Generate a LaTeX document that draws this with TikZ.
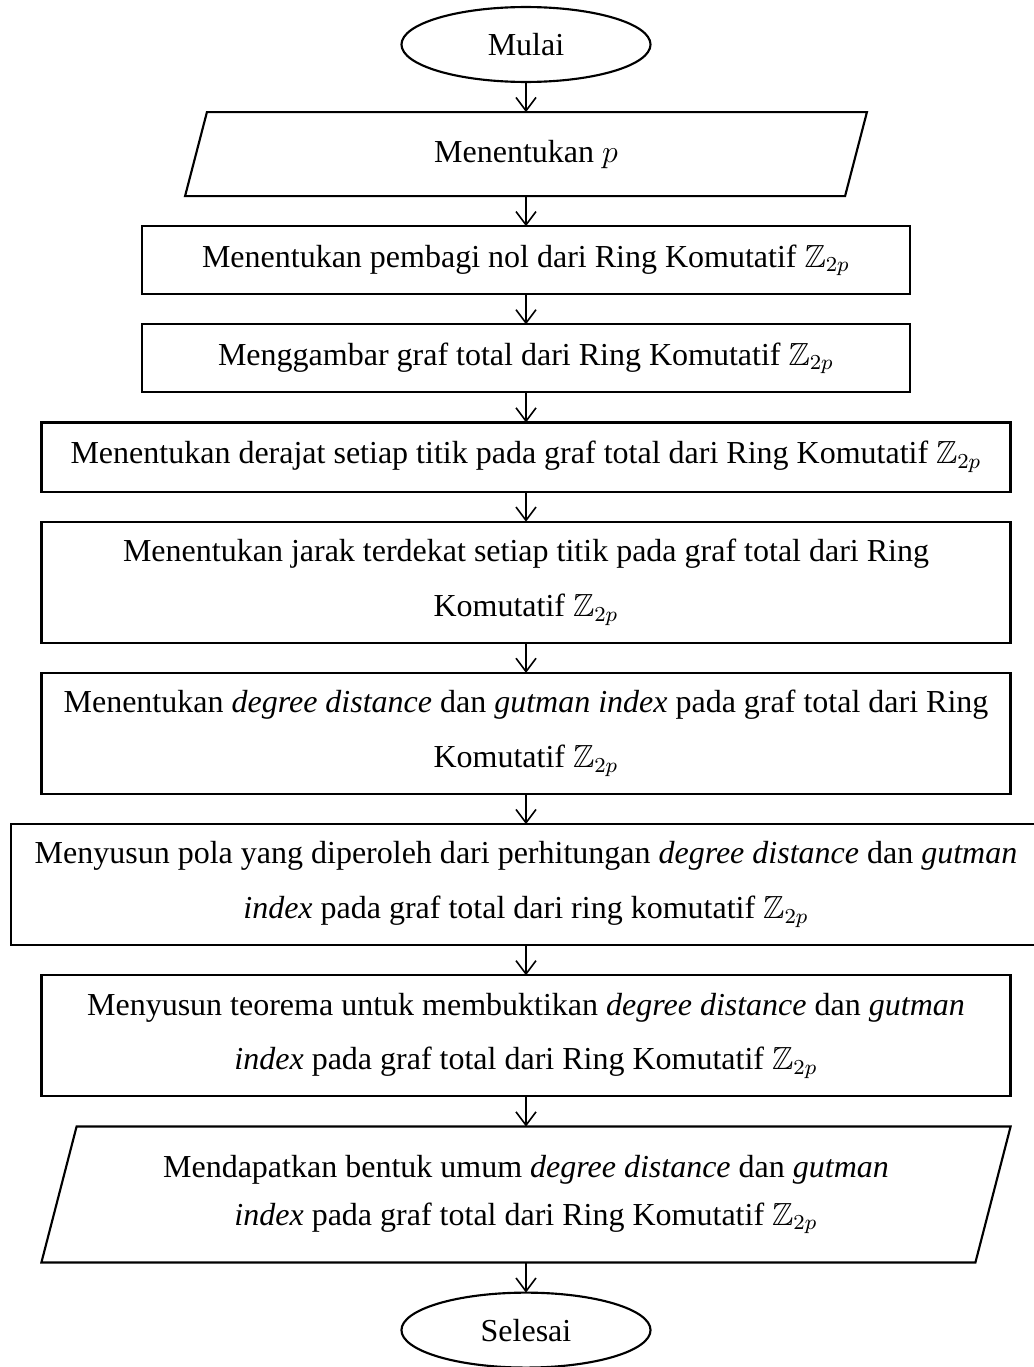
\documentclass[tikz,border=0pt]{standalone}
\usepackage{amssymb}
\usepackage{fontspec}
\setmainfont{Liberation Serif}
\usetikzlibrary{positioning,shapes.geometric,arrows.meta}

\newcommand{\Zdp}{$\mathbb{Z}_{2p}$}

\begin{document}
\begin{tikzpicture}[x=0.375pt,y=-0.375pt,node distance=11.3pt,
                    font=\fontsize{12pt}{20.6pt}\selectfont,
                    garis/.style={line width=0.8pt},
                    terminal/.style={draw,garis,ellipse,inner sep=0pt,outer sep=0pt,
                                     minimum width=93.4pt,minimum height=28.1pt},
                    proses/.style={draw,garis,rectangle,inner sep=0pt,outer sep=0pt,align=center,
                                   minimum width=363.4pt,minimum height=45.4pt},
                    masukan/.style={rectangle,inner sep=0pt,outer sep=0pt,align=center},
                    panah/.style={line width=0.6pt,-{Straight Barb[length=5pt,width=7.5pt]}}]

  \useasboundingbox (0,0) rectangle (1033,1367);

  \node(mulai)[terminal] at (526,44.5) {Mulai};
  \node(tentup)[masukan,minimum width=247.5pt,minimum height=31.5pt,below=of mulai] {Menentukan $p$};
  \node(pembagi)[proses,minimum width=288pt,minimum height=25.5pt,below=of tentup]
       {Menentukan pembagi nol dari Ring Komutatif \Zdp};
  \node(gambar)[proses,minimum width=288pt,minimum height=25.5pt,below=of pembagi]
       {Menggambar graf total dari Ring Komutatif \Zdp};
  \node(derajat)[proses,minimum height=25.9pt,below=of gambar]
       {Menentukan derajat setiap titik pada graf total dari Ring Komutatif \Zdp};
  \node(jarak)[proses,below=of derajat]
       {Menentukan jarak terdekat setiap titik pada graf total dari Ring\\ Komutatif \Zdp};
  \node(indeks)[proses,below=of jarak]
       {Menentukan \textit{degree distance} dan \textit{gutman index} pada graf total dari Ring\\ Komutatif \Zdp};
  \node(pola)[proses,minimum width=386.25pt,below=of indeks]
       {Menyusun pola yang diperoleh dari perhitungan \textit{degree distance} dan \textit{gutman}\\
        \textit{index} pada graf total dari ring komutatif \Zdp};
  \node(teorema)[proses,below=of pola]
       {Menyusun teorema untuk membuktikan \textit{degree distance} dan \textit{gutman}\\
        \textit{index} pada graf total dari Ring Komutatif \Zdp};
  \node(umum)[masukan,minimum width=350.25pt,minimum height=51pt,below=of teorema,
              font=\fontsize{12pt}{18pt}\selectfont]
       {Mendapatkan bentuk umum \textit{degree distance} dan \textit{gutman}\\
        \textit{index} pada graf total dari Ring Komutatif \Zdp};
  \node(selesai)[terminal,below=of umum] {Selesai};

  % jajaran genjang input/output
  \draw[garis] ([xshift=4.1pt]tentup.north west) -- ([xshift=4.1pt]tentup.north east)
            -- ([xshift=-4.1pt]tentup.south east) -- ([xshift=-4.1pt]tentup.south west) -- cycle;
  \draw[garis] ([xshift=6.6pt]umum.north west) -- ([xshift=6.6pt]umum.north east)
            -- ([xshift=-6.6pt]umum.south east) -- ([xshift=-6.6pt]umum.south west) -- cycle;

  \draw[panah] (mulai) -- (tentup);
  \draw[panah] (tentup) -- (pembagi);
  \draw[panah] (pembagi) -- (gambar);
  \draw[panah] (gambar) -- (derajat);
  \draw[panah] (derajat) -- (jarak);
  \draw[panah] (jarak) -- (indeks);
  \draw[panah] (indeks) -- (pola);
  \draw[panah] (pola) -- (teorema);
  \draw[panah] (teorema) -- (umum);
  \draw[panah] (umum) -- (selesai);
\end{tikzpicture}
\end{document}
